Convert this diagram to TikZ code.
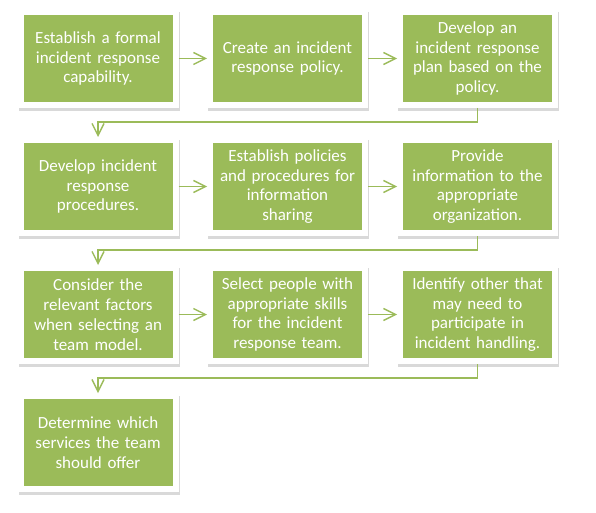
\documentclass[tikz,border=0pt]{standalone}
\usepackage{fontspec}
\setmainfont{Carlito}
\usetikzlibrary{arrows.meta}

\definecolor{boxgreen}{RGB}{155,187,89}

\tikzset{
    stepbox/.style={rectangle, fill=boxgreen, draw=white, line width=6pt,
        minimum width=155pt, minimum height=93pt, text width=152pt, align=center,
        inner sep=0pt, text=white, font=\fontsize{17}{19.8}\selectfont,
        preaction={draw=black!15, fill=black!15, line width=6pt, transform canvas={shift={(1pt,-3pt)}}}},
    flow/.style={draw=boxgreen, line width=1.4pt, -{Straight Barb[length=12pt,width=12pt,line width=1.4pt]}}
}

\begin{document}
\begin{tikzpicture}[x=1pt, y=-1pt]
        \useasboundingbox (0,0) rectangle (596,513);

        \node[stepbox] (formal) at (98,58.5) {Establish a formal\\incident response\\capability.};
        \node[stepbox] (policy) at (287.5,58.5) {Create an incident\\response policy.};
        \node[stepbox] (plan) at (477.5,58.5) {Develop an\\incident response\\plan based on the\\policy.};

        \node[stepbox] (procedures) at (98,186.5) {Develop incident\\response\\procedures.};
        \node[stepbox] (sharing) at (287.5,186.5) {Establish policies\\and procedures for\\information\\sharing};
        \node[stepbox] (organization) at (477.5,186.5) {Provide\\information to the\\appropriate\\organization.};

        \node[stepbox] (factors) at (98,314.5) {Consider the\\relevant factors\\when selecting an\\team model.};
        \node[stepbox] (people) at (287.5,314.5) {Select people with\\appropriate skills\\for the incident\\response team.};
        \node[stepbox] (others) at (477.5,314.5) {Identify other that\\may need to\\participate in\\incident handling.};

        \node[stepbox] (services) at (98,442.5) {Determine which\\services the team\\should offer};

        \draw[flow] (formal) -- (policy);
        \draw[flow] (policy) -- (plan);
        \draw[flow] (plan.south) -- ++(0,14) -| (procedures.north);

        \draw[flow] (procedures) -- (sharing);
        \draw[flow] (sharing) -- (organization);
        \draw[flow] (organization.south) -- ++(0,14) -| (factors.north);

        \draw[flow] (factors) -- (people);
        \draw[flow] (people) -- (others);
        \draw[flow] (others.south) -- ++(0,14) -| (services.north);
\end{tikzpicture}
\end{document}
